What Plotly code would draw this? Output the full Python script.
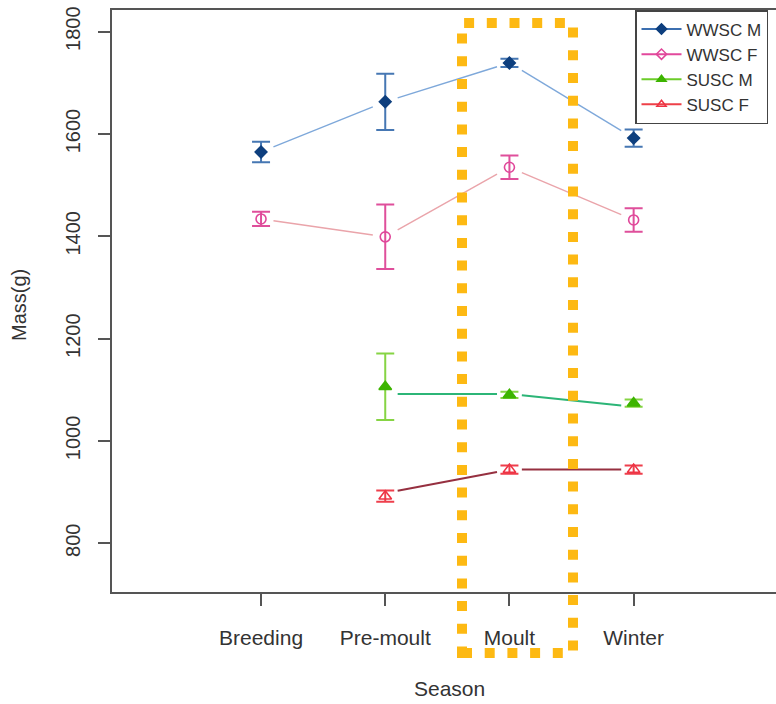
import plotly.graph_objects as go

# ---------------- data ----------------
categories = ["Breeding", "Pre-moult", "Moult", "Winter"]
x_pos = [1, 2, 3, 4]

wwsc_m_mean = [1565, 1663, 1739, 1592]
wwsc_m_err = [20, 55, 8, 17]
wwsc_m_line = [1565, 1663, 1739, 1592]

wwsc_f_mean = [1434, 1399, 1535, 1432]
wwsc_f_err = [14, 63, 23, 23]
wwsc_f_line = [1434, 1399, 1535, 1432]

susc_m_mean = [None, 1106, 1090, 1074]
susc_m_err = [0, 65, 6, 7]
susc_m_line = [None, 1092, 1092, 1067]

susc_f_mean = [None, 892, 944, 944]
susc_f_err = [0, 11, 8, 8]
susc_f_line = [None, 898, 944, 944]

y_ticks = [800, 1000, 1200, 1400, 1600, 1800]

FONT = "Liberation Sans, Arial, sans-serif"
TXT = "#333333"
GAP = 0.1  # fraction of each segment left blank next to the points (R type="b")


def gapped(xs, ys, g=GAP):
    gx, gy = [], []
    for i in range(len(xs) - 1):
        if ys[i] is None or ys[i + 1] is None:
            continue
        dx, dy = xs[i + 1] - xs[i], ys[i + 1] - ys[i]
        gx += [xs[i] + g * dx, xs[i + 1] - g * dx, None]
        gy += [ys[i] + g * dy, ys[i + 1] - g * dy, None]
    return gx, gy


series = [
    dict(name="WWSC M", mean=wwsc_m_mean, err=wwsc_m_err, line=wwsc_m_line,
         line_col="#7ea8da", err_col="#4677b3", mk_col="#0e3f7e",
         symbol="diamond", leg_line="#3c6fb0", leg_symbol="diamond", size=9, lw=1.4),
    dict(name="WWSC F", mean=wwsc_f_mean, err=wwsc_f_err, line=wwsc_f_line,
         line_col="#eaa4aa", err_col="#df4f9b", mk_col="#e0479a",
         symbol="circle-open", leg_line="#e2489c", leg_symbol="diamond-open", size=10, lw=1.4),
    dict(name="SUSC M", mean=susc_m_mean, err=susc_m_err, line=susc_m_line,
         line_col="#2cb577", err_col="#86d444", mk_col="#3db400",
         symbol="triangle-up", leg_line="#6ccc2a", leg_symbol="triangle-up", size=11, lw=2),
    dict(name="SUSC F", mean=susc_f_mean, err=susc_f_err, line=susc_f_line,
         line_col="#963040", err_col="#ee3f4c", mk_col="#ee3344",
         symbol="triangle-up-open", leg_line="#ee4048", leg_symbol="triangle-up-open", size=11, lw=2),
]

fig = go.Figure()

for s in series:
    gx, gy = gapped(x_pos, s["line"])
    fig.add_trace(go.Scatter(x=gx, y=gy, mode="lines", showlegend=False,
                             line=dict(color=s["line_col"], width=s["lw"]),
                             hoverinfo="skip"))
    fig.add_trace(go.Scatter(
        x=x_pos, y=s["mean"], mode="markers", showlegend=False, name=s["name"],
        marker=dict(symbol=s["symbol"], size=s["size"], color=s["mk_col"],
                    line=dict(color=s["mk_col"], width=1.6)),
        error_y=dict(type="data", array=s["err"], visible=True,
                     color=s["err_col"], thickness=2, width=9),
    ))

# legend-only entries
for s in series:
    fig.add_trace(go.Scatter(
        x=[None], y=[None], mode="lines+markers", name=s["name"],
        line=dict(color=s["leg_line"], width=2),
        marker=dict(symbol=s["leg_symbol"], size=8, color=s["mk_col"],
                    line=dict(color=s["mk_col"], width=1.5)),
    ))

W, H = 776, 704
L, T, R, B = 112, 10, 0, 112
pw, ph = W - L - R, H - T - B


def px(xp):  # page pixel -> paper x
    return (xp - L) / pw


def py(yp):  # page pixel -> paper y
    return (H - B - yp) / ph


fig.update_layout(
    width=W, height=H,
    margin=dict(l=L, r=R, t=T, b=B, pad=0, autoexpand=False),
    paper_bgcolor="white", plot_bgcolor="white",
    font=dict(family=FONT, color=TXT, size=20),
    showlegend=True,
    legend=dict(x=px(635), y=1.0, xanchor="left", yanchor="top",
                bordercolor="#444444", borderwidth=1.5, bgcolor="white",
                font=dict(family=FONT, size=17, color=TXT),
                tracegroupgap=0, itemwidth=40),
    xaxis=dict(range=[-0.2, -0.2 + pw / 124.2], tickmode="array",
               tickvals=x_pos, ticktext=categories,
               showgrid=False, zeroline=False, automargin=False,
               showline=True, linecolor="#555555", linewidth=1.5, mirror=True,
               ticks="outside", ticklen=12, tickwidth=1.5, tickcolor="#555555",
               tickfont=dict(size=21, color=TXT), ticklabelstandoff=14,
               ticklabeloverflow="allow"),
    yaxis=dict(range=[704.8, 1842.4], tickmode="array", tickvals=y_ticks,
               showgrid=False, zeroline=False, automargin=False,
               showline=True, linecolor="#555555", linewidth=1.5, mirror=False,
               ticks="outside", ticklen=12, tickwidth=1.5, tickcolor="#555555",
               tickangle=-90, tickfont=dict(size=20, color=TXT),
               ticklabelstandoff=10, ticklabeloverflow="allow"),
    shapes=[dict(type="rect", xref="paper", yref="paper",
                 x0=px(462), x1=px(573), y0=py(653), y1=py(23),
                 line=dict(color="#fdb913", width=10, dash="10px,12.7px"),
                 fillcolor="rgba(0,0,0,0)", layer="above")],
    annotations=[
        dict(text="Mass(g)", xref="paper", yref="paper", x=px(19), y=py(305),
             textangle=-90, showarrow=False, font=dict(size=20, color=TXT),
             xanchor="center", yanchor="middle"),
        dict(text="Season", xref="paper", yref="paper", x=px(449), y=py(688),
             showarrow=False, font=dict(size=21, color=TXT),
             xanchor="center", yanchor="middle"),
    ],
)

# remove the default page margin so the figure sits at the window's corner
fig.write_html(
    "out.html",
    config={"displayModeBar": False},
    post_script="document.body.style.margin='0';document.body.style.overflow='hidden';",
)
